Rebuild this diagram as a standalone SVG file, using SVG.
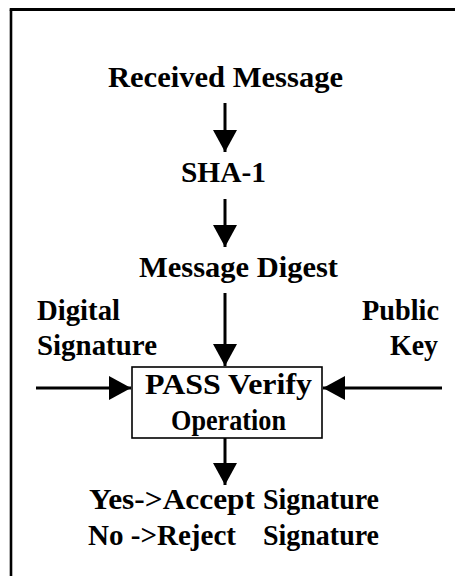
<svg xmlns="http://www.w3.org/2000/svg" width="455" height="576" viewBox="0 0 455 576">
  <style>
    .lbl { font-family: "Liberation Serif", "Times New Roman", serif; font-weight: bold; font-size: 29px; fill: #000; }
    .wire { stroke: #000; stroke-width: 3; fill: none; }
    .frame { stroke: #000; fill: none; }
    .box { stroke: #000; stroke-width: 1.6; fill: #fff; }
  </style>
  <defs>
    <marker id="head" markerUnits="userSpaceOnUse" markerWidth="23" markerHeight="24" refX="22" refY="12" orient="auto">
      <path d="M0,0 L22,12 L0,24 Z" fill="#000"/>
    </marker>
  </defs>

  <rect width="455" height="576" fill="#fff"/>

  <!-- outer frame: left and top edges only -->
  <g id="frame">
    <path class="frame" d="M11,576 V9.5" stroke-width="2.6"/>
    <path class="frame" d="M9.7,9.5 H455" stroke-width="3"/>
  </g>

  <g id="connectors">
    <line class="wire" x1="225" y1="103" x2="225" y2="152" marker-end="url(#head)"/>
    <line class="wire" x1="225" y1="199" x2="225" y2="247" marker-end="url(#head)"/>
    <line class="wire" x1="225" y1="293" x2="225" y2="366" marker-end="url(#head)"/>
    <line class="wire" x1="36" y1="388" x2="131" y2="388" marker-end="url(#head)"/>
    <line class="wire" x1="442" y1="388" x2="323" y2="388" marker-end="url(#head)"/>
    <line class="wire" x1="225" y1="438" x2="225" y2="485" marker-end="url(#head)"/>
  </g>

  <g id="received-message">
    <text class="lbl" x="108" y="87" textLength="235" lengthAdjust="spacingAndGlyphs">Received Message</text>
  </g>

  <g id="sha1">
    <text class="lbl" x="181" y="182" textLength="85" lengthAdjust="spacingAndGlyphs">SHA-1</text>
  </g>

  <g id="message-digest">
    <text class="lbl" x="139" y="277" textLength="199" lengthAdjust="spacingAndGlyphs">Message Digest</text>
  </g>

  <g id="digital-signature">
    <text class="lbl" x="37" y="320" textLength="83" lengthAdjust="spacingAndGlyphs">Digital</text>
    <text class="lbl" x="37" y="355" textLength="120" lengthAdjust="spacingAndGlyphs">Signature</text>
  </g>

  <g id="public-key">
    <text class="lbl" x="362" y="320" textLength="77" lengthAdjust="spacingAndGlyphs">Public</text>
    <text class="lbl" x="390" y="355" textLength="48" lengthAdjust="spacingAndGlyphs">Key</text>
  </g>

  <g id="pass-verify">
    <rect class="box" x="132" y="367" width="190" height="71"/>
    <text class="lbl" x="145" y="394" textLength="167" lengthAdjust="spacingAndGlyphs">PASS Verify</text>
    <text class="lbl" x="171" y="430" textLength="115" lengthAdjust="spacingAndGlyphs">Operation</text>
  </g>

  <g id="result">
    <text class="lbl" x="89" y="509" textLength="166" lengthAdjust="spacingAndGlyphs">Yes-&gt;Accept</text>
    <text class="lbl" x="263" y="509" textLength="116" lengthAdjust="spacingAndGlyphs">Signature</text>
    <text class="lbl" x="88" y="545" textLength="148" lengthAdjust="spacingAndGlyphs">No -&gt;Reject</text>
    <text class="lbl" x="263" y="545" textLength="116" lengthAdjust="spacingAndGlyphs">Signature</text>
  </g>
</svg>
